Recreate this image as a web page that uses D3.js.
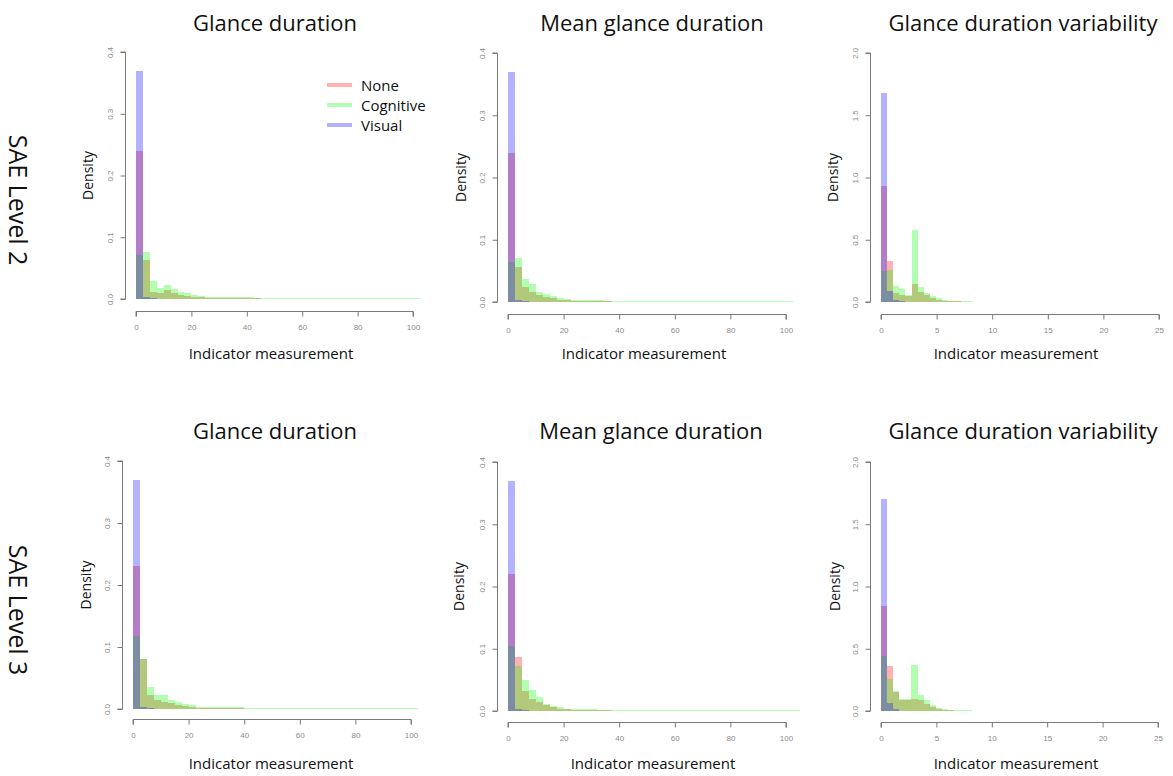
<!DOCTYPE html>
<html>
<head>
<meta charset="utf-8">
<script src="https://cdn.jsdelivr.net/npm/d3@7"></script>
<style>
  html, body { margin: 0; padding: 0; background: #fff; }
  svg { display: block; }
</style>
</head>
<body>
<svg id="chart" width="1173" height="776"></svg>
<script>
// ---------- DATA ----------
const seriesNames = ["None", "Cognitive", "Visual"];
const rowLabels = ["SAE Level 2", "SAE Level 3"];
const panelTitles = ["Glance duration", "Mean glance duration", "Glance duration variability"];
const durationTicks = [0, 20, 40, 60, 80, 100];
const variabilityTicks = [0, 5, 10, 15, 20, 25];
const durationDensityTicks = [0.0, 0.1, 0.2, 0.3, 0.4];
const variabilityDensityTicks = [0.0, 0.5, 1.0, 1.5, 2.0];
const durationBinWidth = 2.5;
const variabilityBinWidth = 0.55;

// SAE Level 2 - Glance duration
const l2GlanceNone = [0.24, 0.063, 0.012, 0.010, 0.014, 0.009, 0.007, 0.005, 0.004, 0.003, 0.002, 0.002, 0.0015, 0.0015, 0.001, 0.001, 0.001, 0.001, 0.0008, 0.0008, 0.0007, 0.0007, 0.0006, 0.0006, 0.0005, 0.0005, 0.0005, 0.0004, 0.0004, 0.0004, 0.0003, 0.0003, 0.0003, 0.0003, 0.0002, 0.0002, 0.0002, 0.0002, 0.0002, 0.0002];
const l2GlanceCog = [0.072, 0.076, 0.029, 0.018, 0.022, 0.016, 0.012, 0.009, 0.007, 0.005, 0.004, 0.0035, 0.003, 0.003, 0.0028, 0.0026, 0.0025, 0.0024, 0.0023, 0.0022, 0.0021, 0.002, 0.002, 0.0019, 0.0018, 0.0017, 0.0016, 0.0016, 0.0016, 0.0016, 0.0016, 0.0016, 0.0016, 0.0016, 0.0016, 0.0016, 0.0016, 0.0016, 0.0016, 0.0016, 0.0016];
const l2GlanceVis = [0.37, 0.004, 0.001];

// SAE Level 2 - Mean glance duration
const l2MeanNone = [0.239, 0.057, 0.024, 0.016, 0.011, 0.008, 0.006, 0.004, 0.003, 0.002, 0.0018, 0.0015, 0.0012, 0.001, 0.001, 0.0008, 0.0007, 0.0006, 0.0006, 0.0005, 0.0005, 0.0004, 0.0004, 0.0003, 0.0003, 0.0003, 0.0002, 0.0002, 0.0002, 0.0002, 0.0002, 0.0001, 0.0001, 0.0001, 0.0001];
const l2MeanCog = [0.064, 0.07, 0.037, 0.029, 0.016, 0.013, 0.009, 0.007, 0.005, 0.004, 0.0035, 0.003, 0.0028, 0.0026, 0.0024, 0.0022, 0.002, 0.0019, 0.0018, 0.0017, 0.0016, 0.0016, 0.0016, 0.0016, 0.0016, 0.0016, 0.0016, 0.0016, 0.0016, 0.0016, 0.0016, 0.0016, 0.0016, 0.0016, 0.0016, 0.0016, 0.0016, 0.0016, 0.0016, 0.0016, 0.0016];
const l2MeanVis = [0.37, 0.003, 0.001];

// SAE Level 2 - Glance duration variability
const l2VarNone = [0.93, 0.33, 0.07, 0.06, 0.05, 0.147, 0.08, 0.053, 0.035, 0.02, 0.012, 0.008, 0.005, 0.004, 0.003, 0.002, 0.002, 0.0015, 0.001, 0.001];
const l2VarCog = [0.246, 0.26, 0.126, 0.107, 0.06, 0.58, 0.12, 0.075, 0.05, 0.03, 0.02, 0.012, 0.008, 0.006, 0.005, 0.004, 0.0035, 0.003, 0.0025, 0.002, 0.002, 0.0015, 0.0015, 0.001, 0.001, 0.001, 0.0008, 0.0008, 0.0006, 0.0006];
const l2VarVis = [1.68, 0.09, 0.02, 0.005, 0.002, 0.001];

// SAE Level 3 - Glance duration
const l3GlanceNone = [0.231, 0.08, 0.023, 0.014, 0.012, 0.009, 0.007, 0.005, 0.003, 0.002, 0.0018, 0.0015, 0.0012, 0.001, 0.001, 0.0009, 0.0008, 0.0007, 0.0006, 0.0006, 0.0005, 0.0005, 0.0004, 0.0004, 0.0003, 0.0003, 0.0003, 0.0002, 0.0002, 0.0002];
const l3GlanceCog = [0.117, 0.081, 0.035, 0.023, 0.023, 0.015, 0.011, 0.008, 0.006, 0.004, 0.0035, 0.003, 0.003, 0.0028, 0.0026, 0.0025, 0.0024, 0.0023, 0.0022, 0.0021, 0.002, 0.002, 0.0019, 0.0018, 0.0017, 0.0016, 0.0016, 0.0016, 0.0016, 0.0016, 0.0016, 0.0016, 0.0016, 0.0016, 0.0016, 0.0016, 0.0016, 0.0016, 0.0016, 0.0016, 0.0016];
const l3GlanceVis = [0.37, 0.004, 0.001];

// SAE Level 3 - Mean glance duration
const l3MeanNone = [0.22, 0.087, 0.032, 0.02, 0.014, 0.009, 0.006, 0.004, 0.003, 0.002, 0.0018, 0.0015, 0.0012, 0.001, 0.001, 0.0008, 0.0007, 0.0006, 0.0005, 0.0005, 0.0004, 0.0004, 0.0003, 0.0003, 0.0002, 0.0002];
const l3MeanCog = [0.104, 0.073, 0.049, 0.033, 0.022, 0.012, 0.008, 0.006, 0.004, 0.0035, 0.003, 0.0028, 0.0026, 0.0024, 0.0022, 0.002, 0.0019, 0.0018, 0.0017, 0.0016, 0.0016, 0.0016, 0.0016, 0.0016, 0.0016, 0.0016, 0.0016, 0.0016, 0.0016, 0.0016, 0.0016, 0.0016, 0.0016, 0.0016, 0.0016, 0.0016, 0.0016, 0.0016, 0.0016, 0.0016, 0.0016, 0.0016];
const l3MeanVis = [0.37, 0.003, 0.001];

// SAE Level 3 - Glance duration variability
const l3VarNone = [0.84, 0.36, 0.15, 0.09, 0.09, 0.10, 0.085, 0.06, 0.03, 0.015, 0.01, 0.006, 0.004, 0.003, 0.002, 0.0015, 0.001, 0.001];
const l3VarCog = [0.44, 0.26, 0.16, 0.10, 0.10, 0.37, 0.125, 0.085, 0.045, 0.025, 0.015, 0.01, 0.008, 0.006, 0.005, 0.004, 0.003, 0.003, 0.0025, 0.002, 0.002, 0.0015, 0.0015, 0.001, 0.001, 0.001, 0.0008, 0.0008];
const l3VarVis = [1.70, 0.064, 0.015, 0.004, 0.002, 0.001];

// ---------- LAYOUT ----------
const colors = ["rgba(255,0,0,0.3)", "rgba(0,255,0,0.3)", "rgba(0,0,255,0.3)"];
const fontMain = "'Open Sans', 'Noto Sans', sans-serif";

const panels = [
  { row: 0, col: 0, series: [l2GlanceNone, l2GlanceCog, l2GlanceVis], bw: durationBinWidth, xTicks: durationTicks, yTicks: durationDensityTicks,
    xr: [136, 413], yr: [299, 52], xAxisY: 311, densX: 87, imX: 271, titleX: 275, legend: true },
  { row: 0, col: 1, series: [l2MeanNone, l2MeanCog, l2MeanVis], bw: durationBinWidth, xTicks: durationTicks, yTicks: durationDensityTicks,
    xr: [508, 786], yr: [302, 53], xAxisY: 314, densX: 460, imX: 644, titleX: 652 },
  { row: 0, col: 2, series: [l2VarNone, l2VarCog, l2VarVis], bw: variabilityBinWidth, xTicks: variabilityTicks, yTicks: variabilityDensityTicks,
    xr: [881, 1159], yr: [302, 53], xAxisY: 314, densX: 832, imX: 1016, titleX: 1023 },
  { row: 1, col: 0, series: [l3GlanceNone, l3GlanceCog, l3GlanceVis], bw: durationBinWidth, xTicks: durationTicks, yTicks: durationDensityTicks,
    xr: [133, 411], yr: [709, 461], xAxisY: 719, densX: 85, imX: 271, titleX: 275 },
  { row: 1, col: 1, series: [l3MeanNone, l3MeanCog, l3MeanVis], bw: durationBinWidth, xTicks: durationTicks, yTicks: durationDensityTicks,
    xr: [508, 786], yr: [711, 462], xAxisY: 722, densX: 458, imX: 653, titleX: 651 },
  { row: 1, col: 2, series: [l3VarNone, l3VarCog, l3VarVis], bw: variabilityBinWidth, xTicks: variabilityTicks, yTicks: variabilityDensityTicks,
    xr: [881, 1158], yr: [711, 462], xAxisY: 722, densX: 834, imX: 1016, titleX: 1023 }
];
const titleY = [22, 430];
const imY = [353, 763];
const rowLabelY = [200, 610];

const svg = d3.select("#chart");
const axisColor = "#7a7a7a";

panels.forEach(p => {
  const xMax = p.xTicks[p.xTicks.length - 1];
  const yMax = p.yTicks[p.yTicks.length - 1];
  const x = d3.scaleLinear().domain([0, xMax]).range(p.xr);
  const y = d3.scaleLinear().domain([0, yMax]).range(p.yr);
  const g = svg.append("g");

  // bars
  p.series.forEach((vals, si) => {
    g.append("g").selectAll("rect")
      .data(vals.map((v, i) => ({ x0: i * p.bw, x1: (i + 1) * p.bw, v })).filter(d => d.v > 0))
      .join("rect")
      .attr("x", d => x(d.x0))
      .attr("width", d => x(d.x1) - x(d.x0))
      .attr("y", d => y(d.v))
      .attr("height", d => y(0) - y(d.v))
      .attr("fill", colors[si])
      .attr("shape-rendering", "crispEdges");
  });

  // y axis (R style: at left edge of plot region)
  const yAxisX = Math.round(x(-0.04 * xMax));
  const yAxis = d3.axisLeft(y).tickValues(p.yTicks).tickFormat(d3.format(".1f")).tickSize(5).tickPadding(4);
  const ya = g.append("g").attr("transform", `translate(${yAxisX + 0.5},0)`).call(yAxis);
  ya.select(".domain").attr("stroke", axisColor).attr("d", `M-5,${y(0)}H0V${y(yMax)}H-5`);
  ya.selectAll(".tick line").attr("stroke", axisColor);
  ya.selectAll(".tick text")
    .attr("fill", "#8a8a8a").attr("font-size", 8).attr("font-family", "Liberation Sans, Arial, sans-serif")
    .attr("text-anchor", "middle").attr("x", null).attr("dy", null)
    .attr("transform", "translate(-13,0) rotate(-90)");

  // x axis
  const xAxis = d3.axisBottom(x).tickValues(p.xTicks).tickFormat(d3.format("d")).tickSize(5).tickPadding(8);
  const xa = g.append("g").attr("transform", `translate(0,${p.xAxisY + 0.5})`).call(xAxis);
  xa.select(".domain").attr("stroke", axisColor).attr("d", `M${x(0)},5V0H${x(xMax)}V5`);
  xa.selectAll(".tick line").attr("stroke", axisColor);
  xa.selectAll(".tick text")
    .attr("fill", "#8a8a8a").attr("font-size", 8).attr("font-family", "Liberation Sans, Arial, sans-serif");

  // Density label
  const densY = (p.yr[0] + p.yr[1]) / 2;
  svg.append("text")
    .attr("transform", `translate(${p.densX},${densY}) rotate(-90)`)
    .attr("text-anchor", "middle").attr("dominant-baseline", "central")
    .attr("font-family", fontMain).attr("font-size", 14).attr("fill", "#111")
    .text("Density");

  // x label
  svg.append("text")
    .attr("x", p.imX).attr("y", imY[p.row])
    .attr("text-anchor", "middle").attr("dominant-baseline", "central")
    .attr("font-family", fontMain).attr("font-size", 15).attr("fill", "#111")
    .text("Indicator measurement");

  // title
  svg.append("text")
    .attr("x", p.titleX).attr("y", titleY[p.row])
    .attr("text-anchor", "middle").attr("dominant-baseline", "central")
    .attr("font-family", fontMain).attr("font-size", 22).attr("fill", "#111")
    .text(panelTitles[p.col]);

  // legend
  if (p.legend) {
    const lg = svg.append("g");
    seriesNames.forEach((name, i) => {
      const ly = 85 + i * 20;
      lg.append("line").attr("x1", 327).attr("x2", 352).attr("y1", ly).attr("y2", ly)
        .attr("stroke", colors[i]).attr("stroke-width", 4);
      lg.append("text").attr("x", 361).attr("y", ly).attr("dominant-baseline", "central")
        .attr("font-family", fontMain).attr("font-size", 15).attr("fill", "#111").text(name);
    });
  }
});

// row labels
rowLabels.forEach((lab, i) => {
  svg.append("text")
    .attr("transform", `translate(19,${rowLabelY[i]}) rotate(90)`)
    .attr("text-anchor", "middle").attr("dominant-baseline", "central")
    .attr("font-family", fontMain).attr("font-size", 25).attr("fill", "#111")
    .text(lab);
});
</script>
</body>
</html>
